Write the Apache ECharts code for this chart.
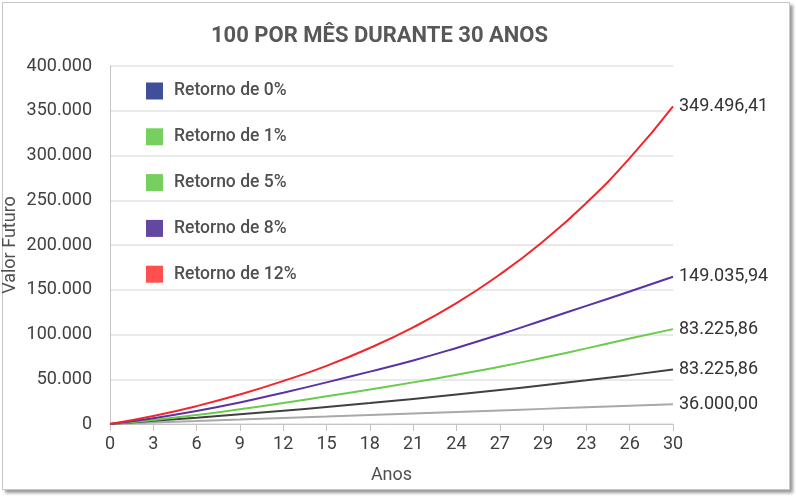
<!DOCTYPE html>
<html>
<head>
<meta charset="utf-8">
<style>
  html, body { margin: 0; padding: 0; background: #fff; }
  #frame {
    position: absolute; left: 2px; top: 2px; width: 786px; height: 486px;
    border: 1px solid #c8c8c8; box-shadow: 3px 3px 3px #9a9a9a; background: #fff;
  }
  #chart { position: absolute; left: -3px; top: -3px; width: 796px; height: 496px; }
</style>
<script src="https://cdn.jsdelivr.net/npm/echarts@6/dist/echarts.min.js"></script>
</head>
<body>
<div id="frame"><div id="chart"></div></div>
<script>
// x-axis labels as printed in the original
const anos = ['0', '3', '6', '9', '12', '15', '18', '21', '24', '27', '29', '23', '26', '30']

const seriesNames = ['Retorno de 0%', 'Retorno de 1%', 'Retorno de 5%', 'Retorno de 8%', 'Retorno de 12%']

// values
const retorno0 = [0, 1700, 3300, 5000, 6800, 8400, 10100, 11800, 13500, 15200, 16900, 18600, 20300, 22000]
const retorno1 = [0, 3500, 7000, 10800, 14800, 19000, 23400, 28000, 32900, 38000, 43300, 48800, 54600, 60800]
const retorno5 = [0, 4500, 10000, 16500, 23500, 31000, 38500, 46500, 55000, 64000, 74000, 84500, 95500, 106000]
const retorno8 = [0, 6500, 14500, 24000, 35000, 46500, 58500, 71000, 85000, 100000, 116000, 132000, 148000, 164500]
const retorno12 = [0, 9000, 20000, 33000, 48000, 65000, 85000, 108000, 135000, 167000, 204000, 247000, 297000, 355000]

const endLabels = ['36.000,00', '83.225,86', '83.225,86', '149.035,94', '349.496,41']

const legendColors = ['#3f4f9a', '#76cf5e', '#76cf5e', '#6447a0', '#ff4f4f']
const lineColors = ['#a9a9a9', '#404040', '#6acb4c', '#5a32a3', '#f2262a']

const allData = [retorno0, retorno1, retorno5, retorno8, retorno12]

const chart = echarts.init(document.getElementById('chart'))

function fmtThousands(v) {
  return String(v).replace(/\B(?=(\d{3})+(?!\d))/g, '.')
}

chart.setOption({
  animation: false,
  textStyle: { fontFamily: 'Roboto' },
  title: {
    text: '100 POR MÊS DURANTE 30 ANOS',
    left: 206,
    top: 20,
    textStyle: { fontSize: 22, fontWeight: 'bold', color: '#585858', fontFamily: 'Roboto' }
  },
  grid: {
    left: 110,
    right: 123,
    top: 66,
    bottom: 72,
    containLabel: false,
    outerBoundsMode: 'none'
  },
  legend: {
    orient: 'vertical',
    left: 141,
    top: 77,
    icon: 'rect',
    itemWidth: 17,
    itemHeight: 17,
    itemGap: 27.8,
    data: seriesNames,
    textStyle: { fontSize: 17.5, fontWeight: 500, color: '#505050', padding: [0, 0, 0, 6] }
  },
  xAxis: {
    type: 'category',
    data: anos,
    boundaryGap: false,
    name: 'Anos',
    nameLocation: 'middle',
    nameGap: 42,
    nameTextStyle: { fontSize: 18, color: '#505050' },
    axisLine: { lineStyle: { color: '#c4c4c4', width: 1 } },
    axisTick: { show: true, length: 7, lineStyle: { color: '#c4c4c4' } },
    axisLabel: { fontSize: 18, color: '#404040', margin: 11, interval: 0 },
    splitLine: { show: false }
  },
  yAxis: {
    type: 'value',
    min: 0,
    max: 400000,
    interval: 50000,
    name: 'Valor Futuro',
    nameLocation: 'middle',
    nameGap: 91,
    nameMoveOverlap: false,
    nameTextStyle: { fontSize: 18, color: '#505050' },
    axisLine: { show: true, lineStyle: { color: '#c4c4c4' } },
    axisTick: { show: false },
    axisLabel: {
      fontSize: 18,
      color: '#404040',
      margin: 18,
      formatter: fmtThousands
    },
    splitLine: { show: true, lineStyle: { color: '#e2e2e2', width: 1.5 } }
  },
  series: seriesNames.map((name, i) => ({
    name: name,
    type: 'line',
    data: allData[i],
    smooth: true,
    showSymbol: false,
    symbol: 'none',
    itemStyle: { color: legendColors[i] },
    lineStyle: { color: lineColors[i], width: 2 },
    endLabel: {
      show: true,
      formatter: () => endLabels[i],
      fontSize: 18,
      color: '#333333',
      distance: 6
    },
    z: 2 + i
  }))
})
</script>
</body>
</html>
